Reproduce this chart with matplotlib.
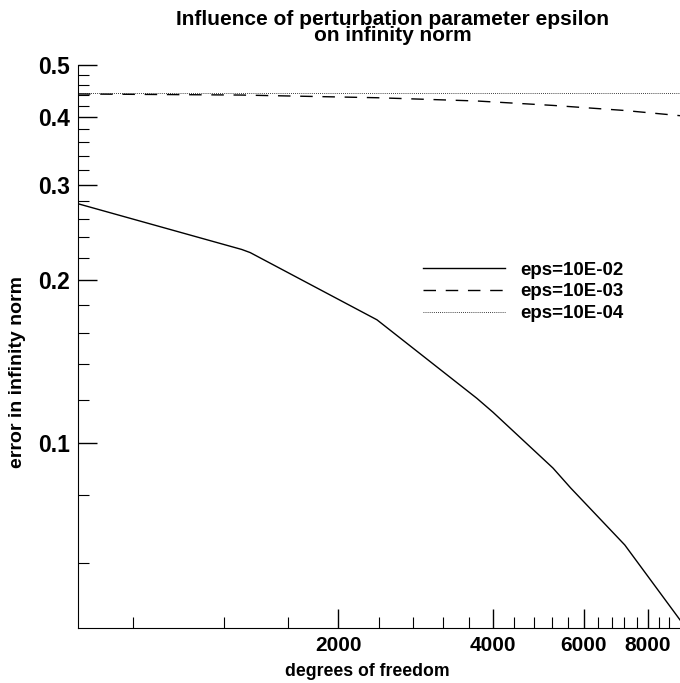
import numpy as np
import matplotlib
matplotlib.use("Agg")
import matplotlib.pyplot as plt
from matplotlib.ticker import FixedLocator, NullFormatter

plt.rcParams["font.family"] = ["Liberation Sans", "DejaVu Sans"]
plt.rcParams["font.weight"] = "bold"

# degrees of freedom
dof_02 = [625, 1300, 1350, 2380, 3720, 4000, 5230, 5660, 7210, 9230]
err_02 = [0.277, 0.228, 0.225, 0.169, 0.121, 0.114, 0.0899, 0.0826, 0.0648, 0.0471]

dof_03 = [625, 1300, 2380, 3720, 5230, 7210, 9230]
err_03 = [0.442, 0.440, 0.435, 0.429, 0.421, 0.412, 0.403]

dof_04 = [625, 9230]
err_04 = [0.444, 0.444]

labels = ["eps=10E-02", "eps=10E-03", "eps=10E-04"]

x_major = [2000, 4000, 6000, 8000]
x_minor = [v for v in range(800, 9200, 400) if v not in x_major]
y_major = [0.1, 0.2, 0.3, 0.4, 0.5]
y_minor = [round(v, 2) for v in np.arange(0.06, 0.49, 0.02) if round(v, 2) not in y_major]

fig = plt.figure(figsize=(6.8, 6.83), dpi=100)
ax = fig.add_axes([0.1147, 0.0805, 0.8853, 0.8243])

ax.plot(dof_02, err_02, "k-", lw=1.0, label=labels[0])
ax.plot(dof_03, err_03, "k", lw=1.0, linestyle=(0, (9, 7)), label=labels[1])
ax.plot(dof_04, err_04, "k", lw=0.6, linestyle=(0, (1, 1.5)), label=labels[2])

ax.set_xscale("log")
ax.set_yscale("log")
ax.set_xlim(625, 9230)
ax.set_ylim(0.0455, 0.5)

ax.xaxis.set_major_locator(FixedLocator(x_major))
ax.xaxis.set_minor_locator(FixedLocator(x_minor))
ax.set_xticklabels([str(v) for v in x_major])
ax.xaxis.set_minor_formatter(NullFormatter())
ax.yaxis.set_major_locator(FixedLocator(y_major))
ax.yaxis.set_minor_locator(FixedLocator(y_minor))
ax.set_yticklabels([str(v) for v in y_major])
ax.yaxis.set_minor_formatter(NullFormatter())

ax.tick_params(which="major", direction="in", length=14, width=1.0, labelsize=15, pad=6)
ax.tick_params(which="minor", direction="in", length=8, width=0.8)
ax.tick_params(axis="y", which="major", labelsize=16.5)
ax.spines["top"].set_visible(False)
ax.spines["right"].set_visible(False)

ax.set_xlabel("degrees of freedom", fontsize=12.7, fontweight="bold")
ax.xaxis.set_label_coords(0.48, -0.063)
ax.set_ylabel("error in infinity norm", fontsize=14, fontweight="bold")
ax.yaxis.set_label_coords(-0.086, 0.455)
ax.set_title("Influence of perturbation parameter epsilon\non infinity norm",
             fontsize=15, fontweight="bold", linespacing=0.8, x=0.523, pad=17)

# legend, placed by hand over the right half of the axes
ax.legend(loc="upper left", bbox_to_anchor=(0.545, 0.681), frameon=False,
          handlelength=4.4, labelspacing=0.25, handletextpad=0.8,
          prop={"weight": "bold", "size": 13.5})

fig.savefig("out.png", dpi=100)
